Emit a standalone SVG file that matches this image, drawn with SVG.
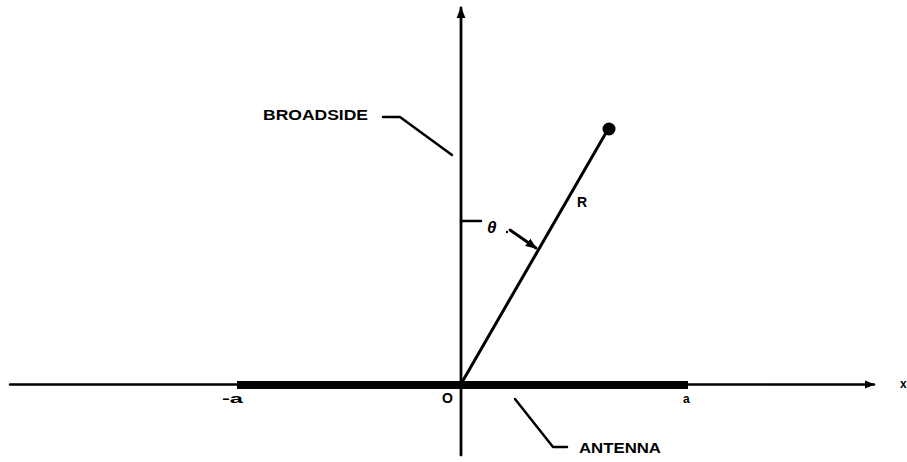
<svg xmlns="http://www.w3.org/2000/svg" width="907" height="462" viewBox="0 0 907 462">
<defs>
<style>
.ln{stroke:#000;fill:none;stroke-linecap:round;stroke-linejoin:round}
.t{font-family:"Liberation Sans",Arial,sans-serif;font-weight:bold;fill:#000}
</style>
<marker id="ah" viewBox="0 0 10 10" refX="9" refY="5" markerWidth="4" markerHeight="4" orient="auto" markerUnits="strokeWidth">
<path d="M0,1 L10,5 L0,9 Z" fill="#000"/>
</marker>
</defs>
<rect width="907" height="462" fill="#fff"/>
<g id="connectors">
<path id="x-axis" class="ln" d="M10,384.5 L874,384.5" stroke-width="2.5" marker-end="url(#ah)"/>
<path id="y-axis" class="ln" d="M461,455 L461,8" stroke-width="2.8" marker-end="url(#ah)"/>
<path id="antenna-bar" d="M237,385 L688,385" stroke="#000" stroke-width="8"/>
<path id="r-line" class="ln" d="M461,384 L607,131" stroke-width="3"/>
<path id="broadside-leader" class="ln" d="M383,117 L400,117 L452,155" stroke-width="2.5"/>
<path id="antenna-leader" class="ln" d="M515,399 L553,447 L567,447" stroke-width="2.5"/>
<path id="theta-bracket" class="ln" d="M461,221 L481,221" stroke-width="2.5"/>
<path id="theta-arrow" class="ln" d="M510,230 L536,248" stroke-width="2.8" marker-end="url(#ah)"/>
</g>
<g id="point"><circle cx="609" cy="129" r="6.5" fill="#000"/></g>
<g id="label-broadside"><text class="t" x="263" y="120" font-size="14" textLength="105" lengthAdjust="spacingAndGlyphs">BROADSIDE</text></g>
<g id="label-antenna"><text class="t" x="579" y="453" font-size="15" textLength="82" lengthAdjust="spacingAndGlyphs">ANTENNA</text></g>
<g id="label-theta"><text class="t" x="487" y="233" font-size="17" font-style="italic">θ</text><circle cx="507" cy="232" r="1.2" fill="#000"/></g>
<g id="label-r"><text class="t" x="577" y="207" font-size="14">R</text></g>
<g id="label-minus-a"><text class="t" x="222" y="403" font-size="13" textLength="21" lengthAdjust="spacingAndGlyphs">-a</text></g>
<g id="label-o"><text class="t" x="442" y="403" font-size="14">O</text></g>
<g id="label-a"><text class="t" x="683" y="403" font-size="12">a</text></g>
<g id="label-x"><text class="t" x="900" y="388" font-size="12">x</text></g>
</svg>
